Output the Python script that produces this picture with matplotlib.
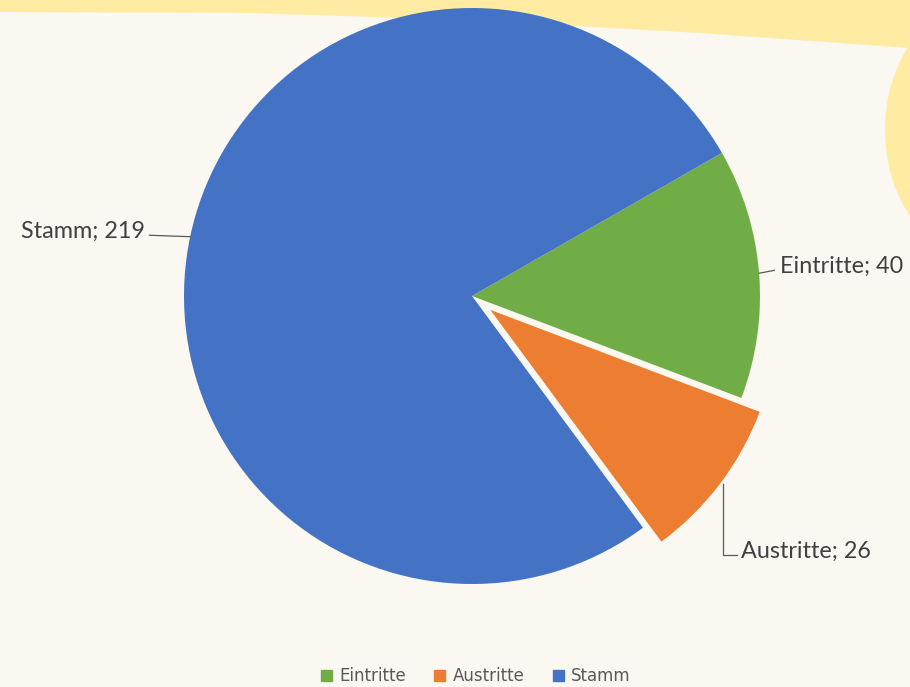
import matplotlib.pyplot as plt
import matplotlib.patches as mpatches
import numpy as np

# Data
categories = ["Eintritte", "Austritte", "Stamm"]
values = [40, 26, 219]
colors = ["#70AD47", "#ED7D31", "#4472C4"]
explode = [0, 0.08, 0]

W, H = 910, 687
fig = plt.figure(figsize=(W / 100, H / 100), dpi=100)
fig.patch.set_facecolor("#FAF8F1")

# Yellow decoration: top band and circle on the right edge (pixel coords, y from top)
band = [(0, 0), (910, 0), (910, 48), (700, 33), (470, 20), (250, 13), (0, 12)]
fig.patches.append(mpatches.Polygon([(x / W, 1 - y / H) for x, y in band],
                                    closed=True, transform=fig.transFigure,
                                    facecolor="#FFEBA1", edgecolor="none", zorder=-5))
fig.patches.append(mpatches.Ellipse((985 / W, 1 - 130 / H), 200 / W, 260 / H,
                                    transform=fig.transFigure,
                                    facecolor="#FFEBA1", edgecolor="none", zorder=-5))

# Pie axes: centre (472, 296) px, radius 288 px
cx, cy, r = 472, 296, 288
ax = fig.add_axes([(cx - r) / W, (H - cy - r) / H, 2 * r / W, 2 * r / H])
ax.set_facecolor("none")
ax.set_zorder(2)

start = 29.8
wedges, _ = ax.pie(values, colors=colors, explode=explode, startangle=start,
                   counterclock=False, radius=1,
                   wedgeprops=dict(linewidth=0))
ax.set_xlim(-1, 1)
ax.set_ylim(-1, 1)
ax.set_aspect("equal")
ax.axis("off")

# Data labels with leader lines
lab_kw = dict(fontsize=16.8, color="#404040", family=["Lato", "DejaVu Sans"])
line_kw = dict(color="#595959", lw=0.9, clip_on=False)

total = sum(values)
angles = []
a = start
for v in values:
    span = v / total * 360
    angles.append(np.deg2rad(a - span / 2))
    a -= span

for cat, v, th, ex in zip(categories, values, angles, explode):
    px, py = (1 + ex) * np.cos(th), (1 + ex) * np.sin(th)
    txt = f"{cat}; {v}"
    if cat == "Eintritte":
        ax.plot([px, 1.05], [py, py + 0.01], **line_kw)
        ax.text(1.07, py + 0.025, txt, ha="left", va="center", **lab_kw)
    elif cat == "Austritte":
        ax.plot([px + 0.01, px + 0.01, 0.92], [py, -0.9, -0.9], **line_kw)
        ax.text(0.935, -0.885, txt, ha="left", va="center", **lab_kw)
    else:
        ax.plot([px, -1.12], [py, py + 0.005], **line_kw)
        ax.text(-1.135, py + 0.02, txt, ha="right", va="center", **lab_kw)

# Legend
handles = [mpatches.Patch(color=c, label=l) for c, l in zip(colors, categories)]
leg = fig.legend(handles=handles, loc="center", bbox_to_anchor=(0.523, 0.016),
                 ncol=3, frameon=False, handlelength=0.65,
                 handleheight=0.65, handletextpad=0.45, columnspacing=1.7,
                 prop=dict(family=["DejaVu Sans"], size=12))
for t in leg.get_texts():
    t.set_color("#595959")

fig.savefig("out.png", dpi=100, facecolor=fig.get_facecolor())
